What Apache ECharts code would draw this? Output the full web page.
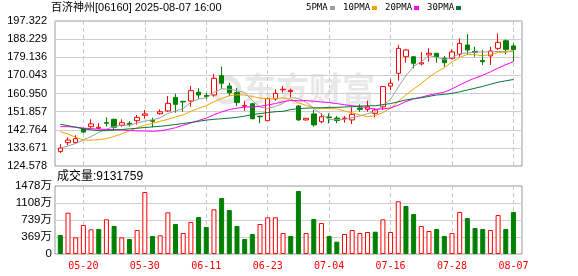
<!DOCTYPE html>
<html><head><meta charset="utf-8">
<script src="https://cdn.jsdelivr.net/npm/echarts@6/dist/echarts.min.js"></script>
<style>html,body{margin:0;padding:0;background:#fff}#c{width:578px;height:276px}</style>
</head><body><div id="c"></div>
<script>
// ---- data ----
const dates = ['05-15','05-16','05-19','05-20','05-21','05-22','05-23','05-26','05-27','05-28','05-29','05-30',
'06-02','06-03','06-04','06-05','06-06','06-09','06-10','06-11','06-12','06-13','06-16','06-17','06-18','06-19','06-20','06-23',
'06-24','06-25','06-26','06-27','06-30','07-02','07-03','07-04','07-07','07-08','07-09','07-10','07-11','07-14','07-15','07-16',
'07-17','07-18','07-21','07-22','07-23','07-24','07-25','07-28','07-29','07-30','07-31','08-01','08-04','08-05','08-06','08-07'];
const tickLabels = ['05-20','05-30','06-11','06-23','07-04','07-16','07-28','08-07'];
const priceTicks = [124.578,133.671,142.764,151.857,160.950,170.043,179.136,188.229,197.322];
const volTicks = [0,369.5,739,1108.5,1478];
const opens  = [131.9,136.3,136.3,143.3,144.3,143.5,146.3,148.0,145.0,146.0,147.3,150.0,147.5,150.8,152.2,159.0,157.0,157.2,161.6,160.0,
                160.2,169.9,164.7,161.4,154.6,155.8,149.6,147.3,158.2,162.8,161.9,154.7,147.7,150.7,146.8,149.2,148.6,148.3,147.7,153.7,
                153.0,151.0,154.3,164.7,171.1,179.4,179.4,175.8,180.3,181.1,178.6,178.6,180.6,185.3,182.1,177.5,179.8,183.6,187.4,184.8];
const closes = [133.6,137.6,138.3,141.6,145.7,144.0,146.0,144.0,146.3,145.3,149.0,150.7,147.0,151.8,156.0,155.5,156.7,162.4,160.2,159.4,
                168.6,166.1,161.3,156.4,155.0,148.3,149.3,158.4,161.0,163.1,162.5,147.7,148.5,145.2,149.3,148.8,147.4,148.6,150.5,153.0,
                154.3,152.7,164.4,166.1,183.6,182.8,176.1,176.4,181.1,179.3,176.4,181.8,186.1,182.8,181.6,176.9,182.3,186.6,183.1,183.0];
const lows   = [131.1,135.0,135.8,141.1,143.1,142.9,144.4,142.3,144.3,144.3,145.3,148.3,144.0,150.3,151.8,151.3,151.8,154.3,158.2,158.2,
                159.3,163.2,159.7,154.7,152.3,148.0,146.0,147.2,157.3,161.4,159.0,147.2,147.4,144.3,146.0,146.0,146.0,146.3,145.6,151.8,
                151.8,149.0,152.7,162.7,167.4,176.4,173.6,175.1,176.9,176.4,174.4,178.1,179.4,180.3,179.4,175.3,175.3,182.8,180.6,176.9];
const highs  = [135.5,139.0,140.0,143.6,148.0,146.1,149.0,148.3,148.0,147.1,150.2,152.7,148.8,153.0,159.7,160.9,157.3,164.7,163.6,161.3,
                170.7,174.4,166.4,163.7,157.3,156.3,149.7,159.0,163.0,164.7,163.4,155.2,148.7,152.7,151.0,151.0,149.7,149.7,154.0,155.5,
                157.3,153.5,164.7,168.1,185.3,183.1,179.6,181.6,183.6,181.3,179.8,183.1,188.6,190.8,184.4,182.8,184.4,191.1,188.1,186.1];
const ma5  = [133.6,134.6,135.9,137.6,139.4,141.4,143.1,144.3,145.2,145.1,146.1,147.1,147.7,148.8,150.9,152.2,153.4,156.5,158.2,158.8,
              161.5,163.3,163.1,162.4,161.5,157.4,154.1,153.5,154.4,156.0,158.9,158.5,156.6,153.4,150.6,147.9,147.8,147.9,148.9,149.7,
              150.8,151.8,155.0,158.1,164.2,169.9,174.6,177.0,180.0,179.1,177.9,179.0,180.9,181.3,181.7,181.8,181.9,182.0,182.1,182.4];
const ma10 = [141.8,140.6,139.0,137.6,137.5,137.8,138.3,139.4,140.7,142.2,143.8,145.1,146.0,147.0,148.0,149.2,150.2,152.1,153.5,154.9,
              156.8,158.4,159.8,160.3,160.2,159.4,158.7,158.3,158.4,158.8,158.1,156.3,155.0,153.9,153.3,153.4,153.2,152.2,151.2,150.2,
              149.3,149.8,151.4,153.5,156.9,160.3,163.2,166.0,169.1,171.7,173.9,176.8,179.0,180.6,180.4,179.9,180.5,181.5,181.7,182.1];
const ma20 = [144.3,144.3,144.1,143.6,143.3,143.1,142.9,142.8,142.6,142.4,142.2,142.1,142.0,142.2,142.9,143.8,145.0,146.2,147.4,148.6,
              150.3,151.7,152.9,153.6,154.1,154.3,154.5,155.2,155.9,156.8,157.5,157.3,157.4,157.1,156.7,156.4,155.9,155.3,154.8,154.5,
              153.7,153.1,153.2,153.7,155.1,156.9,158.2,159.1,160.1,160.9,161.6,163.3,165.2,167.1,168.7,170.1,171.8,173.7,175.4,176.9];
const ma30 = [145.5,144.8,144.0,143.2,142.7,142.3,142.3,142.6,142.9,143.2,143.5,143.9,144.2,144.5,144.9,145.4,145.9,146.4,147.0,147.6,
              148.0,148.3,148.6,149.0,149.6,150.3,150.9,151.4,151.8,152.0,152.9,153.3,153.6,153.7,153.8,154.0,154.0,154.2,154.3,154.6,
              154.8,154.8,155.4,155.9,156.8,157.7,158.4,158.8,159.5,160.2,160.5,161.0,161.8,162.7,163.6,164.5,165.6,166.6,167.3,168.0];
// volume in 万 shares
const volumes = [413,898,362,630,536,543,754,609,362,326,522,1348,391,406,906,652,456,696,804,587,
                 971,1217,956,609,326,435,652,797,797,456,391,1369,456,761,674,391,268,435,522,456,
                 478,485,754,478,1145,1043,869,609,500,543,391,456,913,782,565,543,522,848,543,913.1759];
// 1 = volume bar drawn red (up day), 0 = green
const volUp = [0,1,1,1,1,0,1,0,1,0,1,1,0,1,1,0,1,1,0,0,1,0,0,0,0,0,1,1,1,1,0,0,1,0,1,0,0,1,1,1,1,0,1,1,1,0,0,1,1,0,0,1,1,0,0,0,1,1,0,0];
const titleText = '百济神州[06160] 2025-08-07 16:00';
const volTitle = '成交量:9131759';
const maNames = ['5PMA','10PMA','20PMA','30PMA'];

// ---- styles ----
const RED = '#ff0000', GREEN = '#008000';
const maColors = ['#a0a0a0','#f5a300','#ff00ff','#0b7437'];
const FONT = '"Liberation Sans","Noto Sans CJK SC",sans-serif';
const MONO = '"DejaVu Sans Mono","Noto Sans CJK SC",monospace';

const ohlc = opens.map((o,i)=>[o, closes[i], lows[i], highs[i]]);
const volData = volumes.map((v,i)=>({value:v, itemStyle: volUp[i]
  ? {color:'#fff', borderColor:RED, borderWidth:1}
  : {color:GREEN, borderColor:GREEN, borderWidth:1}}));
const showTick = (idx) => tickLabels.indexOf(dates[idx]) >= 0;

const L = 55, W = 467, IL = 56.5, IW = 460.8;
const chart = echarts.init(document.getElementById('c'), null, {renderer:'canvas'});
const legendG = [];
const legX = [306,343,385,427];
maNames.forEach((n,i)=>{
  legendG.push({type:'text', left:legX[i], top:3, style:{text:n, font:'9px '+MONO, fill:'#000'}});
});
const sqX = [330,372,414,456];
sqX.forEach((x,i)=>legendG.push({type:'rect', shape:{x:x,y:6,width:5,height:4}, style:{fill:maColors[i]}}));

chart.setOption({
  animation:false,
  backgroundColor:'#fff',
  graphic:[
    {type:'text', left:51, top:2, style:{text:titleText, font:'11px '+FONT, fill:'#000'}},
    {type:'text', left:57, top:171, style:{text:volTitle, font:'12px '+FONT, fill:'#000'}},
    {type:'circle', shape:{cx:227,cy:90,r:12}, style:{fill:'none', stroke:'#e6e6e6', lineWidth:5}, z:-10},
    {type:'text', left:243, top:72, z:-10, style:{text:'东方财富', font:'bold 33px "Noto Sans CJK SC"', fill:'#e8e8e8'}}
  ].concat(legendG),
  grid:[
    {left:L, top:21, width:W, height:145, show:true, borderColor:'#999', borderWidth:1, backgroundColor:'transparent'},
    {left:IL, top:21, width:IW, height:145},
    {left:L, top:186, width:W, height:68, show:true, borderColor:'#999', borderWidth:1, backgroundColor:'transparent'},
    {left:IL, top:186, width:IW, height:68}
  ],
  xAxis:[
    {gridIndex:0, type:'value', min:0, max:1, show:false},
    {gridIndex:1, type:'category', data:dates, boundaryGap:true,
      axisLine:{show:false}, axisTick:{show:false}, axisLabel:{show:false},
      splitLine:{show:true, interval:showTick, alignWithLabel:true, lineStyle:{color:'#c8c8c8', type:[4,3], width:1}}},
    {gridIndex:2, type:'value', min:0, max:1, show:false},
    {gridIndex:3, type:'category', data:dates, boundaryGap:true,
      axisLine:{show:false}, axisTick:{show:false},
      axisLabel:{show:true, interval:showTick, color:RED, fontSize:10, fontFamily:MONO, margin:7},
      splitLine:{show:true, interval:showTick, alignWithLabel:true, lineStyle:{color:'#c8c8c8', type:[4,3], width:1}}}
  ],
  yAxis:[
    {gridIndex:0, type:'value', min:priceTicks[0], max:priceTicks[priceTicks.length-1], interval:priceTicks[1]-priceTicks[0],
      axisLine:{show:false}, axisTick:{show:false},
      axisLabel:{color:'#000', fontSize:11, fontFamily:FONT, margin:8, formatter:v=>v.toFixed(3)},
      splitLine:{show:true, showMinLine:false, showMaxLine:false, lineStyle:{color:'#cfcfcf', width:1}}},
    {gridIndex:1, type:'value', min:priceTicks[0], max:priceTicks[priceTicks.length-1], show:false, splitLine:{show:false}},
    {gridIndex:2, type:'value', min:volTicks[0], max:volTicks[volTicks.length-1], interval:volTicks[1]-volTicks[0],
      axisLine:{show:false}, axisTick:{show:false},
      axisLabel:{color:'#000', fontSize:11.5, fontFamily:FONT, margin:3, formatter:v=> v===0 ? '0' : Math.floor(v)+'万'},
      splitLine:{show:true, showMinLine:false, showMaxLine:false, lineStyle:{color:'#cfcfcf', width:1}}},
    {gridIndex:3, type:'value', min:volTicks[0], max:volTicks[volTicks.length-1], show:false, splitLine:{show:false}}
  ],
  series:[
    {type:'candlestick', xAxisIndex:1, yAxisIndex:1, data:ohlc, barWidth:5,
      itemStyle:{color:'#fff', color0:GREEN, borderColor:RED, borderColor0:GREEN, borderWidth:1}},
    {type:'line', name:maNames[0], xAxisIndex:1, yAxisIndex:1, data:ma5, symbol:'none', lineStyle:{color:maColors[0], width:1}},
    {type:'line', name:maNames[1], xAxisIndex:1, yAxisIndex:1, data:ma10, symbol:'none', lineStyle:{color:maColors[1], width:1}},
    {type:'line', name:maNames[2], xAxisIndex:1, yAxisIndex:1, data:ma20, symbol:'none', lineStyle:{color:maColors[2], width:1}},
    {type:'line', name:maNames[3], xAxisIndex:1, yAxisIndex:1, data:ma30, symbol:'none', lineStyle:{color:maColors[3], width:1}},
    {type:'bar', xAxisIndex:3, yAxisIndex:3, data:volData, barWidth:5}
  ]
});
</script></body></html>
